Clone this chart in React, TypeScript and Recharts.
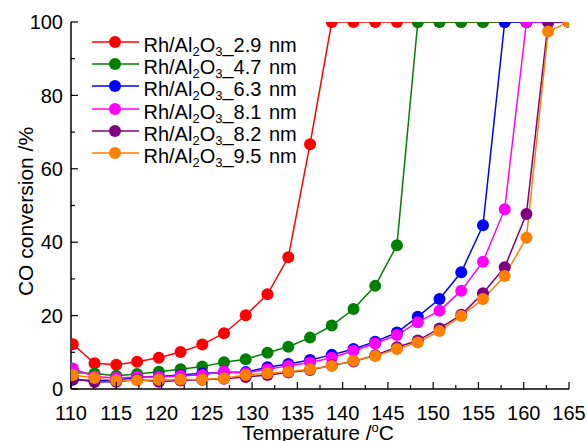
import React from "react";
import { LineChart, Line, XAxis, YAxis, Legend } from "recharts";

const temps = [110.2, 112.6, 115.0, 117.3, 119.7, 122.1, 124.5, 126.9, 129.3, 131.7, 134.0, 136.4, 138.8, 141.2, 143.6, 146.0, 148.3, 150.7, 153.1, 155.5, 157.9, 160.3, 162.7, 165.0];

// CO conversion (%) for each catalyst
const rh29 = [12.2, 7.0, 6.6, 7.4, 8.5, 10.1, 12.1, 15.2, 20.1, 25.8, 35.9, 66.7, 100, 100, 100, 100, 100, 100, 100, 100, 100, 100, 100, 100];
const rh47 = [4.5, 4.2, 3.6, 4.1, 4.7, 5.4, 6.1, 7.3, 8.1, 9.9, 11.5, 14.0, 17.3, 21.8, 28.1, 39.2, 100, 100, 100, 100, 100, 100, 100, 100];
const rh63 = [2.5, 2.3, 2.4, 3.2, 3.4, 3.8, 4.3, 4.4, 4.6, 5.9, 6.8, 7.9, 9.3, 10.9, 12.9, 15.4, 19.7, 24.5, 31.8, 44.6, 100, 100, 100, 100];
const rh81 = [5.6, 3.4, 3.0, 3.3, 3.3, 3.6, 3.8, 4.8, 4.3, 5.4, 6.3, 7.2, 8.5, 10.4, 12.4, 14.7, 18.2, 21.3, 26.8, 34.7, 49.0, 100, 100, 100];
const rh82 = [2.8, 1.9, 2.0, 2.6, 2.0, 2.3, 2.5, 2.8, 3.3, 3.8, 4.5, 5.2, 6.5, 7.5, 9.2, 11.4, 13.2, 16.5, 20.2, 26.1, 33.2, 47.7, 100, 100];
const rh95 = [3.8, 3.0, 2.3, 2.3, 2.5, 2.6, 2.6, 2.9, 3.8, 4.3, 4.7, 5.4, 6.3, 7.7, 9.0, 10.9, 12.7, 15.8, 19.9, 24.5, 30.8, 41.2, 97.4, 100];

const sizes = ["2.9", "4.7", "6.3", "8.1", "8.2", "9.5"];
const seriesValues = [rh29, rh47, rh63, rh81, rh82, rh95];
const seriesKeys = ["s29", "s47", "s63", "s81", "s82", "s95"];
const colors = ["#ff0000", "#008000", "#0000ff", "#ff00ff", "#800080", "#ff8000"];

const xTicks = [110, 112.5, 115, 117.5, 120, 122.5, 125, 127.5, 130, 132.5, 135, 137.5, 140, 142.5, 145, 147.5, 150, 152.5, 155, 157.5, 160, 162.5, 165];
const yTicks = [0, 10, 20, 30, 40, 50, 60, 70, 80, 90, 100];

const data = temps.map((t, i) => {
  const row: Record<string, number> = { t };
  seriesKeys.forEach((k, j) => {
    row[k] = seriesValues[j][i];
  });
  return row;
});

const FONT = "'Liberation Sans', Arial, sans-serif";
const MAJOR = 7;
const MINOR = 4;

const isMult = (v: number, m: number) => Math.abs(v / m - Math.round(v / m)) < 1e-6;

const BottomTick = (props: any) => {
  const { x, y, payload } = props;
  const v = payload.value;
  const major = isMult(v, 5);
  return (
    <g>
      <line x1={x} x2={x} y1={y} y2={y - (major ? MAJOR : MINOR)} stroke="#000" strokeWidth={1.2} />
      {major && (
        <text x={x} y={y + 31} textAnchor="middle" fontSize={20} fontFamily={FONT} fill="#000">
          {v}
        </text>
      )}
    </g>
  );
};

const TopTick = (props: any) => {
  const { x, y, payload } = props;
  const major = isMult(payload.value, 5);
  return <line x1={x} x2={x} y1={y} y2={y + (major ? MAJOR : MINOR)} stroke="#000" strokeWidth={1.2} />;
};

const LeftTick = (props: any) => {
  const { x, y, payload } = props;
  const v = payload.value;
  const major = isMult(v, 20);
  return (
    <g>
      <line x1={x} x2={x + (major ? MAJOR : MINOR)} y1={y} y2={y} stroke="#000" strokeWidth={1.2} />
      {major && (
        <text x={x - 8} y={y} dy="0.36em" textAnchor="end" fontSize={20} fontFamily={FONT} fill="#000">
          {v}
        </text>
      )}
    </g>
  );
};

const RightTick = (props: any) => {
  const { x, y, payload } = props;
  const major = isMult(payload.value, 20);
  return <line x1={x} x2={x - (major ? MAJOR : MINOR)} y1={y} y2={y} stroke="#000" strokeWidth={1.2} />;
};

const XTitle = (props: any) => {
  const { viewBox } = props;
  const cx = viewBox.x + viewBox.width / 2;
  return (
    <text x={cx - 2} y={viewBox.y + 51} textAnchor="middle" fontSize={21} fontFamily={FONT} fill="#000">
      Temperature /
      <tspan fontSize={13} dy={-8}>o</tspan>
      <tspan dy={8}>C</tspan>
    </text>
  );
};

const YTitle = (props: any) => {
  const { viewBox } = props;
  const cy = viewBox.y + viewBox.height / 2 + 6;
  const bx = 33;
  return (
    <text
      x={bx}
      y={cy}
      transform={`rotate(-90, ${bx}, ${cy})`}
      textAnchor="middle"
      fontSize={21}
      fontFamily={FONT}
      fill="#000"
    >
      CO conversion /%
    </text>
  );
};

const subStyle: React.CSSProperties = { fontSize: "0.65em", verticalAlign: "-0.3em", lineHeight: 0 };

const LegendContent = (props: any) => {
  const payload = props.payload || [];
  return (
    <div style={{ fontFamily: FONT, color: "#000" }}>
      {payload.map((entry: any, i: number) => (
        <div key={i} style={{ display: "flex", alignItems: "center", height: 22.3 }}>
          <svg width={47} height={14} style={{ overflow: "visible", transform: "translateY(-3px)" }}>
            <line x1={0} x2={47} y1={7} y2={7} stroke={entry.color} strokeWidth={1.5} />
            <circle cx={23} cy={7} r={6} fill={entry.color} />
          </svg>
          <span style={{ marginLeft: 5, fontSize: 20, lineHeight: "22px", whiteSpace: "pre", wordSpacing: 2 }}>
            Rh/Al<sub style={subStyle}>2</sub>O<sub style={subStyle}>3</sub>_{sizes[i]} nm
          </span>
        </div>
      ))}
    </div>
  );
};

export default function App() {
  return (
    <div style={{ position: "absolute", left: 0, top: 0, width: 587, height: 441, background: "#fff" }}>
      <LineChart width={587} height={441} data={data} margin={{ top: 22, right: 18, bottom: 22, left: 0 }}>
        <XAxis
          xAxisId="bottom"
          dataKey="t"
          type="number"
          domain={[110, 165]}
          allowDataOverflow
          ticks={xTicks}
          interval={0}
          height={30}
          tickSize={0}
          tickMargin={0}
          tickLine={false}
          tick={<BottomTick />}
          axisLine={{ stroke: "#000", strokeWidth: 1.5 }}
          label={<XTitle />}
        />
        <XAxis
          xAxisId="top"
          orientation="top"
          dataKey="t"
          type="number"
          domain={[110, 165]}
          allowDataOverflow
          ticks={xTicks}
          interval={0}
          height={0}
          tickSize={0}
          tickMargin={0}
          tickLine={false}
          tick={<TopTick />}
          axisLine={{ stroke: "#000", strokeWidth: 1.5 }}
        />
        <YAxis
          yAxisId="left"
          type="number"
          domain={[0, 100]}
          allowDataOverflow
          ticks={yTicks}
          interval={0}
          width={71}
          tickSize={0}
          tickMargin={0}
          tickLine={false}
          tick={<LeftTick />}
          axisLine={{ stroke: "#000", strokeWidth: 1.5 }}
          label={<YTitle />}
        />
        <YAxis
          yAxisId="right"
          orientation="right"
          type="number"
          domain={[0, 100]}
          allowDataOverflow
          ticks={yTicks}
          interval={0}
          width={0}
          tickSize={0}
          tickMargin={0}
          tickLine={false}
          tick={<RightTick />}
          axisLine={{ stroke: "#000", strokeWidth: 1.5 }}
        />
        <Legend
          layout="horizontal"
          verticalAlign="middle"
          align="center"
          wrapperStyle={{ left: 91.5, top: 33.5, width: "auto" }}
          content={<LegendContent />}
        />
        {seriesKeys.map((k, j) => (
          <Line
            key={k}
            xAxisId="bottom"
            yAxisId="left"
            dataKey={k}
            name={`Rh/Al2O3_${sizes[j]} nm`}
            stroke={colors[j]}
            strokeWidth={1.5}
            dot={{ r: 6, fill: colors[j], stroke: colors[j], strokeWidth: 0 }}
            activeDot={false}
            isAnimationActive={false}
          />
        ))}
      </LineChart>
    </div>
  );
}
